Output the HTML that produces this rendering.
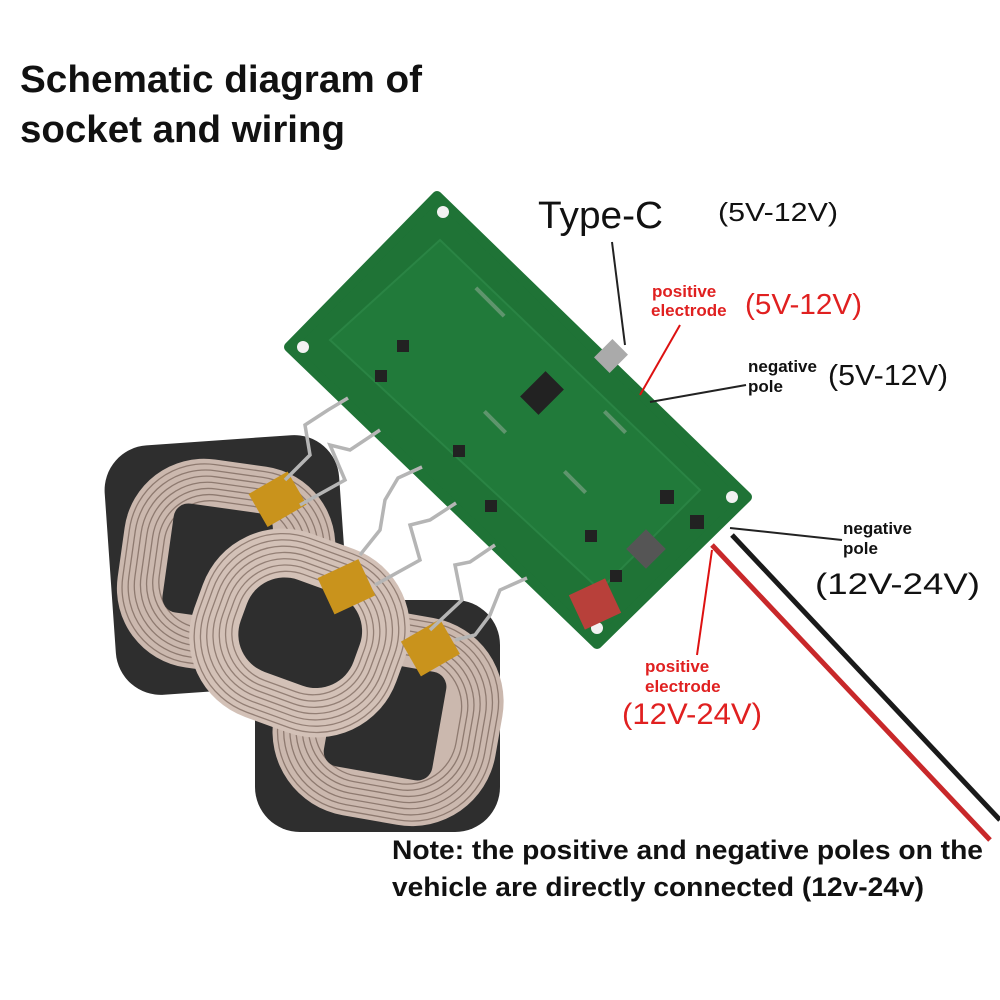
<!DOCTYPE html>
<html><head><meta charset="utf-8"><style>
html,body{margin:0;padding:0;background:#fff;width:1000px;height:1000px;overflow:hidden}
svg{display:block}
text{font-family:"Liberation Sans",sans-serif}
</style></head><body>
<svg width="1000" height="1000" viewBox="0 0 1000 1000">
<rect width="1000" height="1000" fill="#fff"/>
<text x="20" y="92" font-size="38" font-weight="bold" fill="#111" textLength="402" lengthAdjust="spacingAndGlyphs">Schematic diagram of</text>
<text x="20" y="142" font-size="38" font-weight="bold" fill="#111" textLength="325" lengthAdjust="spacingAndGlyphs">socket and wiring</text>

<!-- wires -->
<path d="M712 545 L990 840" stroke="#c8282a" stroke-width="5" fill="none"/>
<path d="M732 535 L1000 820" stroke="#1a1a1a" stroke-width="5" fill="none"/>

<!-- pads -->
<rect x="110" y="440" width="235" height="250" rx="45" fill="#2e2e2e" transform="rotate(-4 227 565)"/>
<rect x="255" y="600" width="245" height="232" rx="45" fill="#2e2e2e"/>

<!-- coil 1 -->
<g transform="rotate(8 225 568)">
<rect x="120" y="462" width="212" height="210" rx="80" fill="#cbb8ae"/>
<g fill="none" stroke="#8e7a70" stroke-width="1.3">
<rect x="125" y="467" width="202" height="200" rx="76"/><rect x="131" y="473" width="190" height="188" rx="71"/><rect x="137" y="479" width="178" height="176" rx="66"/><rect x="143" y="485" width="166" height="164" rx="61"/><rect x="149" y="491" width="154" height="152" rx="56"/><rect x="155" y="497" width="142" height="140" rx="51"/><rect x="161" y="503" width="130" height="128" rx="46"/>
</g>
<rect x="167" y="509" width="100" height="110" rx="15" fill="#2e2e2e"/>
</g>
<!-- coil 3 -->
<g transform="rotate(10 390 720)">
<rect x="275" y="612" width="225" height="210" rx="85" fill="#cbb8ae"/>
<g fill="none" stroke="#8e7a70" stroke-width="1.3">
<rect x="280" y="617" width="215" height="200" rx="80"/><rect x="286" y="623" width="203" height="188" rx="75"/><rect x="292" y="629" width="191" height="176" rx="70"/><rect x="298" y="635" width="179" height="164" rx="65"/><rect x="304" y="641" width="167" height="152" rx="60"/><rect x="310" y="647" width="155" height="140" rx="55"/><rect x="316" y="653" width="143" height="128" rx="50"/>
</g>
<rect x="330" y="665" width="110" height="110" rx="15" fill="#2e2e2e"/>
</g>
<!-- coil 2 -->
<g transform="rotate(20 298 633)">
<rect x="192" y="535" width="215" height="195" rx="85" fill="#d3c1b7"/>
<g fill="none" stroke="#937f75" stroke-width="1.3">
<rect x="197" y="540" width="205" height="185" rx="80"/><rect x="203" y="546" width="193" height="173" rx="75"/><rect x="209" y="552" width="181" height="161" rx="70"/><rect x="215" y="558" width="169" height="149" rx="65"/><rect x="221" y="564" width="157" height="137" rx="60"/><rect x="227" y="570" width="145" height="125" rx="55"/><rect x="233" y="576" width="133" height="113" rx="50"/>
</g>
<rect x="240" y="583" width="120" height="98" rx="40" fill="#2e2e2e"/>
</g>

<!-- tapes -->
<rect x="255" y="480" width="45" height="38" fill="#c9931c" transform="rotate(-30 278 499)"/>
<rect x="324" y="567" width="45" height="40" fill="#c9931c" transform="rotate(-25 346 587)"/>
<rect x="408" y="628" width="45" height="40" fill="#c9931c" transform="rotate(-30 430 648)"/>

<!-- pcb -->
<polygon points="437,196 747,497 597,644 289,347" fill="#1f7336" stroke="#1f7336" stroke-width="10" stroke-linejoin="round"/>
<polygon points="440,240 700,490 600,590 330,340" fill="#217a3a" stroke="#2a8444" stroke-width="2"/>
<circle cx="443" cy="212" r="6" fill="#f2f2f2"/><circle cx="303" cy="347" r="6" fill="#f2f2f2"/>
<circle cx="732" cy="497" r="6" fill="#f2f2f2"/><circle cx="597" cy="628" r="6" fill="#f2f2f2"/>
<rect x="524" y="380" width="36" height="26" fill="#222" transform="rotate(-45 542 393)"/>
<rect x="632" y="535" width="28" height="28" fill="#555" transform="rotate(-45 646 549)"/>
<rect x="575" y="585" width="40" height="38" fill="#b8403a" transform="rotate(-25 595 604)"/>
<rect x="598" y="345" width="26" height="22" fill="#aaa" transform="rotate(-45 611 356)"/>
<g fill="#222">
<rect x="375" y="370" width="12" height="12"/><rect x="453" y="445" width="12" height="12"/><rect x="660" y="490" width="14" height="14"/><rect x="397" y="340" width="12" height="12"/><rect x="485" y="500" width="12" height="12"/><rect x="690" y="515" width="14" height="14"/><rect x="585" y="530" width="12" height="12"/><rect x="610" y="570" width="12" height="12"/>
</g>
<g fill="#6f9c7a" opacity="0.8">
<rect x="470" y="300" width="40" height="4" transform="rotate(45 490 302)"/><rect x="480" y="420" width="30" height="4" transform="rotate(45 495 422)"/><rect x="560" y="480" width="30" height="4" transform="rotate(45 575 482)"/><rect x="600" y="420" width="30" height="4" transform="rotate(45 615 422)"/>
</g>

<!-- coil leads -->
<g fill="none" stroke="#b5b5b5" stroke-width="3.5">
<path d="M348 398 L328 410 L305 425 L310 455 L285 480"/>
<path d="M380 430 L350 450 L330 445 L345 480 L300 505"/>
<path d="M422 467 L398 478 L385 500 L380 530 L360 555"/>
<path d="M456 503 L430 520 L410 525 L420 560 L375 585"/>
<path d="M495 545 L470 562 L455 565 L462 600 L430 630"/>
<path d="M527 578 L500 590 L490 615 L475 635 L455 640"/>
</g>

<!-- leaders -->
<g stroke-width="2" fill="none">
<line x1="612" y1="242" x2="625" y2="345" stroke="#222"/>
<line x1="680" y1="325" x2="640" y2="395" stroke="#d11"/>
<line x1="746" y1="385" x2="650" y2="402" stroke="#222"/>
<line x1="842" y1="540" x2="730" y2="528" stroke="#222"/>
<line x1="712" y1="550" x2="697" y2="655" stroke="#d11"/>
</g>

<text x="538" y="228" font-size="38" fill="#111" textLength="125" lengthAdjust="spacingAndGlyphs">Type-C</text>
<text x="718" y="221" font-size="26" fill="#111" textLength="120" lengthAdjust="spacingAndGlyphs">(5V-12V)</text>
<text x="652" y="297" font-size="17" font-weight="bold" fill="#e02020">positive</text>
<text x="651" y="316" font-size="17" font-weight="bold" fill="#e02020">electrode</text>
<text x="745" y="314" font-size="29" fill="#e02020" textLength="117" lengthAdjust="spacingAndGlyphs">(5V-12V)</text>
<text x="748" y="372" font-size="17" font-weight="bold" fill="#111">negative</text>
<text x="748" y="392" font-size="17" font-weight="bold" fill="#111">pole</text>
<text x="828" y="385" font-size="29" fill="#111" textLength="120" lengthAdjust="spacingAndGlyphs">(5V-12V)</text>
<text x="843" y="534" font-size="17" font-weight="bold" fill="#111">negative</text>
<text x="843" y="554" font-size="17" font-weight="bold" fill="#111">pole</text>
<text x="815" y="594" font-size="30" fill="#111" textLength="165" lengthAdjust="spacingAndGlyphs">(12V-24V)</text>
<text x="645" y="672" font-size="17" font-weight="bold" fill="#e02020">positive</text>
<text x="645" y="692" font-size="17" font-weight="bold" fill="#e02020">electrode</text>
<text x="622" y="724" font-size="30" fill="#e02020" textLength="140" lengthAdjust="spacingAndGlyphs">(12V-24V)</text>
<text x="392" y="859" font-size="27" font-weight="bold" fill="#111" textLength="591" lengthAdjust="spacingAndGlyphs">Note: the positive and negative poles on the</text>
<text x="392" y="896" font-size="27" font-weight="bold" fill="#111" textLength="532" lengthAdjust="spacingAndGlyphs">vehicle are directly connected (12v-24v)</text>
</svg>
</body></html>
